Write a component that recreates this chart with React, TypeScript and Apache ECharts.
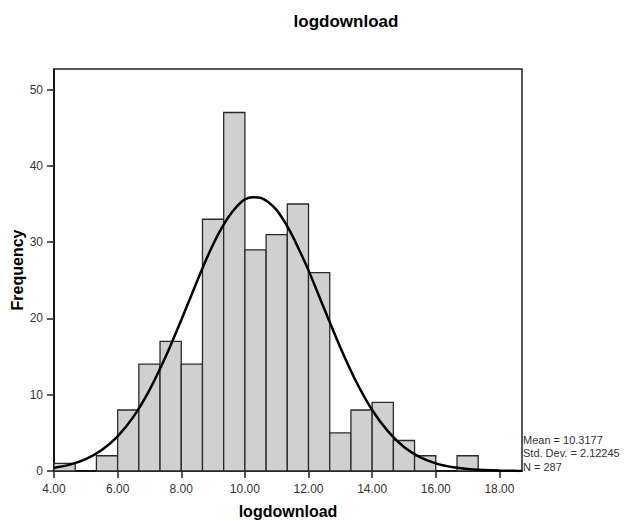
import React, { useEffect, useRef } from "react";
import * as echarts from "echarts";

// Histogram bins (edges; bin width 2/3)
const binEdges = [4.0, 4.667, 5.333, 6.0, 6.667, 7.333, 8.0, 8.667, 9.333, 10.0, 10.667, 11.333, 12.0, 12.667, 13.333, 14.0, 14.667, 15.333, 16.0, 16.667, 17.333];
const counts = [1, 0, 2, 8, 14, 17, 14, 33, 47, 29, 31, 35, 26, 5, 8, 9, 4, 2, 0, 2];

// Fitted normal curve
const curveX = [4.0, 4.5, 5.0, 5.5, 6.0, 6.5, 7.0, 7.5, 8.0, 8.5, 8.75, 9.0, 9.25, 9.5, 9.75, 10.0, 10.25, 10.5, 10.75, 11.0, 11.25, 11.5, 11.75, 12.0, 12.5, 13.0, 13.5, 14.0, 14.5, 15.0, 15.5, 16.0, 16.5, 17.0, 17.5, 18.0, 18.5, 18.7];
const curveY = [0.43, 0.84, 1.56, 2.74, 4.54, 7.13, 10.6, 14.9, 19.8, 24.9, 27.4, 29.7, 31.7, 33.4, 34.7, 35.6, 35.9, 35.8, 35.2, 34.2, 32.65, 30.8, 28.6, 26.3, 21.2, 16.2, 11.7, 8.0, 5.2, 3.15, 1.82, 1.0, 0.52, 0.25, 0.12, 0.05, 0.02, 0.01];

const xTicks = [4, 6, 8, 10, 12, 14, 16, 18];
const yTicks = [0, 10, 20, 30, 40, 50];

const statLines = ["Mean = 10.3177", "Std. Dev. = 2.12245", "N = 287"];
const chartTitle = "logdownload";
const xName = "logdownload";
const yName = "Frequency";

const FONT = "'Liberation Sans', Arial, sans-serif";

export default function App() {
  const ref = useRef<HTMLDivElement>(null);
  useEffect(() => {
    if (!ref.current) return;
    const chart = echarts.init(ref.current, null, { renderer: "svg" });
    const histData = counts
      .map((c, i) => [binEdges[i], binEdges[i + 1], c])
      .filter((d) => d[2] > 0);
    const option: any = {
      animation: false,
      backgroundColor: "#ffffff",
      textStyle: { fontFamily: FONT },
      grid: {
        left: 54,
        top: 69,
        right: 110,
        bottom: 50,
        containLabel: false,
        outerBoundsMode: "none",
        show: true,
        borderColor: "#222",
        borderWidth: 1.5,
        backgroundColor: "transparent",
      },
      xAxis: {
        type: "value",
        min: 4,
        max: 18.71,
        name: xName,
        nameLocation: "middle",
        nameGap: 32,
        nameMoveOverlap: false,
        nameTextStyle: { fontFamily: FONT, fontSize: 16, fontWeight: "bold", color: "#000" },
        axisLine: { show: true, lineStyle: { color: "#000", width: 1.5 } },
        axisTick: { show: true, length: 7, customValues: xTicks, lineStyle: { color: "#222", width: 1.5 } },
        axisLabel: {
          customValues: xTicks,
          formatter: (v: number) => v.toFixed(2),
          fontFamily: FONT,
          fontSize: 12,
          color: "#333",
          margin: 12,
        },
        splitLine: { show: false },
      },
      yAxis: {
        type: "value",
        min: 0,
        max: 52.7,
        name: yName,
        nameLocation: "middle",
        nameGap: 29,
        nameMoveOverlap: false,
        nameTextStyle: { fontFamily: FONT, fontSize: 16, fontWeight: "bold", color: "#000" },
        axisLine: { show: true, lineStyle: { color: "#000", width: 1.5 } },
        axisTick: { show: true, length: 7, customValues: yTicks, lineStyle: { color: "#222", width: 1.5 } },
        axisLabel: {
          customValues: yTicks,
          fontFamily: FONT,
          fontSize: 12,
          color: "#333",
          margin: 11,
        },
        splitLine: { show: false },
      },
      series: [
        {
          type: "custom",
          data: histData,
          renderItem: (params: any, api: any) => {
            const p0 = api.coord([api.value(0), api.value(2)]);
            const p1 = api.coord([api.value(1), 0]);
            return {
              type: "rect",
              shape: { x: p0[0], y: p0[1], width: p1[0] - p0[0], height: p1[1] - p0[1] },
              style: { fill: "#d0d0d0", stroke: "#2a2a2a", lineWidth: 1.3 },
            };
          },
          z: 2,
        },
        {
          type: "line",
          data: curveX.map((x, i) => [x, curveY[i]]),
          smooth: 0.3,
          showSymbol: false,
          symbol: "none",
          lineStyle: { color: "#000", width: 2.5 },
          z: 3,
        },
      ],
      graphic: [
        {
          type: "text",
          x: 346,
          y: 21,
          style: {
            text: chartTitle,
            fontFamily: FONT,
            fontSize: 17,
            fontWeight: "bold",
            fill: "#000",
            align: "center",
            verticalAlign: "middle",
          },
        },
        ...statLines.map((t, i) => ({
          type: "text",
          x: 523,
          y: 440 + i * 13.3,
          style: {
            text: t,
            fontFamily: FONT,
            fontSize: 11,
            fill: "#333",
            align: "left",
            verticalAlign: "middle",
          },
        })),
      ],
    };
    chart.setOption(option);
    return () => chart.dispose();
  }, []);
  return (
    <div
      ref={ref}
      style={{ position: "fixed", left: 0, top: 0, width: 632, height: 521, background: "#fff" }}
    />
  );
}
